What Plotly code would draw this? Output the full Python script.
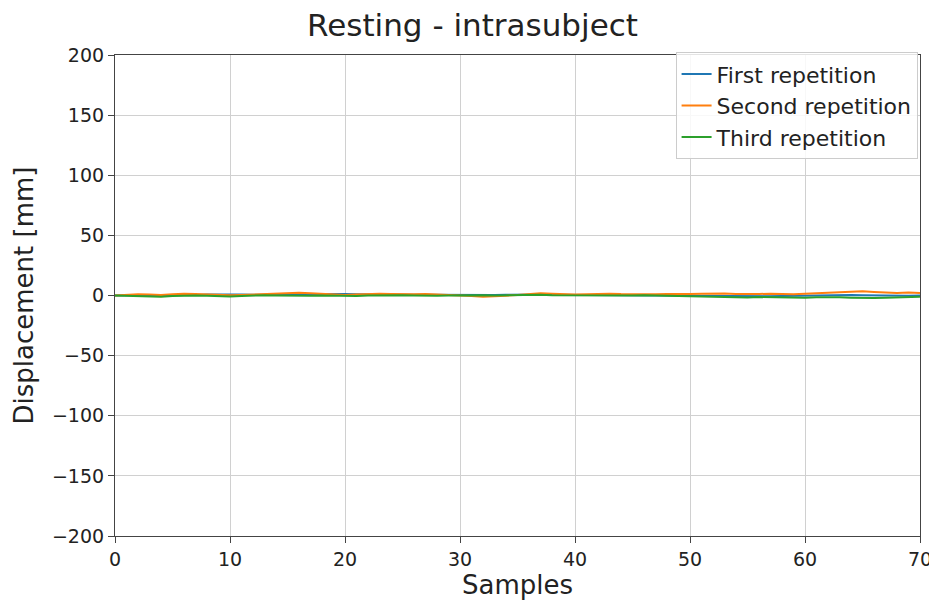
import plotly.graph_objects as go

samples = list(range(71))
first_rep = [0, 0.3, 0.5, 0.5, 0.3, 0.2, 0.3, 0.5, 0.8, 1.0,
             1.0, 0.8, 0.6, 0.5, 0.5, 0.6, 0.8, 1.0, 1.2, 1.3,
             1.2, 1.0, 0.8, 0.6, 0.5, 0.5, 0.6, 0.7, 0.6, 0.4,
             0.2, 0.1, 0.2, 0.4, 0.6, 0.8, 0.9, 0.8, 0.7, 0.6,
             0.5, 0.5, 0.6, 0.7, 0.6, 0.5, 0.4, 0.3, 0.2, 0.1,
             0, -0.2, -0.4, -0.6, -0.8, -0.9, -0.8, -0.6, -0.4, -0.2,
             0, 0.2, 0.4, 0.5, 0.4, 0.2, 0, -0.2, -0.3, -0.2,
             0]
second_rep = [0, 0.5, 1.0, 0.8, 0.5, 1.0, 1.5, 1.2, 0.8, 0.5,
              0.3, 0.5, 0.8, 1.0, 1.5, 2.0, 2.2, 1.8, 1.2, 0.8,
              0.5, 0.8, 1.2, 1.5, 1.2, 0.8, 1.0, 1.3, 1.0, 0.5,
              0, -0.5, -1.0, -0.8, -0.2, 0.5, 1.2, 1.8, 1.5, 1.0,
              0.8, 1.0, 1.3, 1.5, 1.2, 1.0, 0.8, 1.0, 1.2, 1.0,
              1.2, 1.5, 1.8, 1.6, 1.2, 1.0, 1.3, 1.5, 1.2, 1.0,
              1.5, 2.0, 2.5, 2.8, 3.2, 3.5, 3.0, 2.5, 2.0, 2.5,
              2.0]
third_rep = [0, -0.3, -0.8, -1.2, -1.0, -0.5, -0.2, 0, -0.3, -0.6,
             -0.8, -0.5, 0, 0.3, 0, -0.3, -0.5, -0.3, 0, -0.3,
             -0.6, -0.5, 0, 0.3, 0.5, 0.3, 0, -0.3, -0.2, 0,
             0.2, 0.3, 0.2, 0, 0.2, 0.5, 0.8, 0.6, 0.3, 0.2,
             0.3, 0.5, 0.3, 0, -0.2, 0, 0.2, 0, -0.3, -0.5,
             -0.8, -1.0, -1.2, -1.5, -1.8, -1.6, -1.3, -1.5, -1.8, -2.0,
             -1.8, -1.5, -1.3, -1.5, -1.8, -2.2, -2.0, -1.8, -1.5, -1.2,
             -1.0]

names = ["First repetition", "Second repetition", "Third repetition"]
colors = ["#1f77b4", "#ff7f0e", "#2ca02c"]
x_ticks = [0, 10, 20, 30, 40, 50, 60, 70]
y_ticks = [-200, -150, -100, -50, 0, 50, 100, 150, 200]

font = "DejaVu Sans, sans-serif"
fig = go.Figure()
for name, ys, c in zip(names, [first_rep, second_rep, third_rep], colors):
    fig.add_trace(go.Scatter(x=samples, y=ys, mode="lines", name=name,
                             line=dict(color=c, width=2)))

axis_common = dict(showline=True, linecolor="#444444", linewidth=1.2, mirror=True,
                   ticks="outside", ticklen=6, tickcolor="#444444", automargin=False,
                   showgrid=True, gridcolor="#d0d0d0", gridwidth=1,
                   zeroline=False, tickfont=dict(size=19, color="#222222", family=font))

# page body has an 8px margin, so the figure is sized/shifted to compensate
fig.update_layout(
    width=929, height=595,
    margin=dict(l=107, r=17, t=47, b=67),
    plot_bgcolor="white", paper_bgcolor="white",
    font=dict(family=font, color="#222222"),
    title=dict(text="Resting - intrasubject", x=0.5, xanchor="center",
               y=0.972, yanchor="middle", font=dict(size=31, family=font)),
    xaxis=dict(range=[0, 70], tickvals=x_ticks,
               title=dict(text="Samples", font=dict(size=26), standoff=4),
               **axis_common),
    yaxis=dict(range=[-200, 200], tickvals=y_ticks,
               title=dict(text="Displacement [mm]", font=dict(size=26), standoff=10),
               **axis_common),
    legend=dict(x=0.997, y=1.006, xanchor="right", yanchor="top",
                bgcolor="rgba(255,255,255,0.85)", bordercolor="#cccccc", borderwidth=1,
                font=dict(size=22, family=font), tracegroupgap=0),
)

fig.write_html("out.html")
